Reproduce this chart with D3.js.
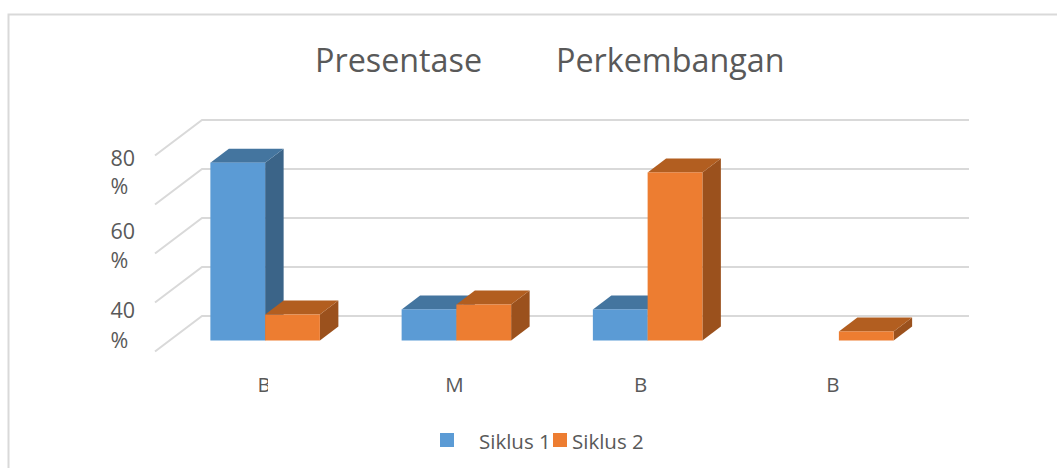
<!DOCTYPE html>
<html>
<head>
<meta charset="utf-8">
<script src="https://d3js.org/d3.v7.min.js"></script>
<style>
  html, body { margin: 0; background: #fff; }
  svg { display: block; }
  text { font-family: "Open Sans", sans-serif; fill: #595959; white-space: pre; }
</style>
</head>
<body>
<svg id="chart" width="1057" height="468"></svg>
<script>
// Data
const categories = ['B', 'M', 'B ', 'B  '];
const siklus1 = [72.6, 12.7, 12.7, 0];
const siklus2 = [10.6, 14.7, 68.6, 3.7];
const seriesNames = ['Siklus 1', 'Siklus 2'];
const gridTicks = [0, 20, 40, 60, 80];
const yLabels = ['80', '60', '40'];

const svg = d3.select('#chart');

// Layout
const floorY = 340.5;
const barDepth = { x: 18.5, y: -14 };
const gridFront = { x: 155, y: 11 };   // near end of the wall lines, relative to the value
const gridBack = { x: 202, y: -24.5 };
const gridRight = 969;
const labelNudge = [-1, -2, -7, -6];
const yLabelRows = [[166, 194], [239, 268], [318, 348]];

const x = d3.scaleBand().domain(categories).range([169.5, 934.5]);
const series = d3.scaleBand().domain(seriesNames).range([0, 109.5]);
const y = d3.scaleLinear().domain([0, 80]).range([floorY, floorY - 196]);

const colours = {
  'Siklus 1': { front: '#5b9bd5', top: '#44759f', side: '#3b6488' },
  'Siklus 2': { front: '#ed7d31', top: '#b25e20', side: '#9b511d' }
};

// The first category label is cut off on its right side in the original
svg.append('clipPath')
  .attr('id', 'cut-label')
  .append('rect')
  .attr('x', 240)
  .attr('y', 370)
  .attr('width', 28)
  .attr('height', 30);

// Chart frame
svg.append('path')
  .attr('d', 'M8.5,468V14.5H1057')
  .attr('fill', 'none')
  .attr('stroke', '#d9d9d9')
  .attr('stroke-width', 2);

// Title
svg.append('text')
  .attr('x', 315)
  .attr('y', 72)
  .attr('font-size', 32.3)
  .text('Presentase');
svg.append('text')
  .attr('x', 556)
  .attr('y', 72)
  .attr('font-size', 32.3)
  .text('Perkembangan');

// Gridlines, wall part and side part
const grid = svg.append('g')
  .attr('fill', 'none')
  .attr('stroke', '#d9d9d9')
  .attr('stroke-width', 2);
grid.selectAll('path')
  .data(gridTicks)
  .join('path')
  .attr('d', d => `M${gridFront.x},${y(d) + gridFront.y}L${gridBack.x},${y(d) + gridBack.y}H${gridRight}`);

// Y labels wrap onto two rows in the original
const yLabel = svg.append('g').attr('font-size', 21.5);
yLabels.forEach((label, i) => {
  yLabel.append('text').attr('x', 110.5).attr('y', yLabelRows[i][0]).text(label);
  yLabel.append('text').attr('x', 110.5).attr('y', yLabelRows[i][1]).text('%');
});

// Bars: top and side faces first, then the front
const rows = categories.flatMap((c, i) => [
  { category: c, name: seriesNames[0], value: siklus1[i] },
  { category: c, name: seriesNames[1], value: siklus2[i] }
]).filter(d => d.value > 0);

const barLeft = d => x(d.category) + x.bandwidth() / 2 - series.bandwidth() + series(d.name);

const bar = svg.append('g').selectAll('g')
  .data(rows)
  .join('g');

bar.append('path')
  .attr('fill', d => colours[d.name].side)
  .attr('d', d => {
    const r = barLeft(d) + series.bandwidth();
    return `M${r},${y(d.value)}l${barDepth.x},${barDepth.y}V${floorY + barDepth.y}L${r},${floorY}Z`;
  });
bar.append('path')
  .attr('fill', d => colours[d.name].top)
  .attr('d', d => `M${barLeft(d)},${y(d.value)}l${barDepth.x},${barDepth.y}h${series.bandwidth()}l${-barDepth.x},${-barDepth.y}Z`);
bar.append('rect')
  .attr('fill', d => colours[d.name].front)
  .attr('x', barLeft)
  .attr('y', d => y(d.value))
  .attr('width', series.bandwidth())
  .attr('height', d => floorY - y(d.value));

// Category labels
svg.append('g').attr('font-size', 20.5).selectAll('text')
  .data(categories)
  .join('text')
  .attr('x', (d, i) => x(d) + x.bandwidth() / 2 + labelNudge[i])
  .attr('y', 392)
  .attr('text-anchor', 'middle')
  .attr('clip-path', (d, i) => i === 0 ? 'url(#cut-label)' : null)
  .text(d => d.trim());

// Legend
const legendX = [440, 553];
const legendTextX = [479, 572];
const legend = svg.append('g').selectAll('g')
  .data(seriesNames)
  .join('g');
legend.append('rect')
  .attr('x', (d, i) => legendX[i])
  .attr('y', 433)
  .attr('width', 14)
  .attr('height', 14)
  .attr('fill', d => colours[d].front);
legend.append('text')
  .attr('x', (d, i) => legendTextX[i])
  .attr('y', 449)
  .attr('font-size', 20.5)
  .text(d => d);
</script>
</body>
</html>
